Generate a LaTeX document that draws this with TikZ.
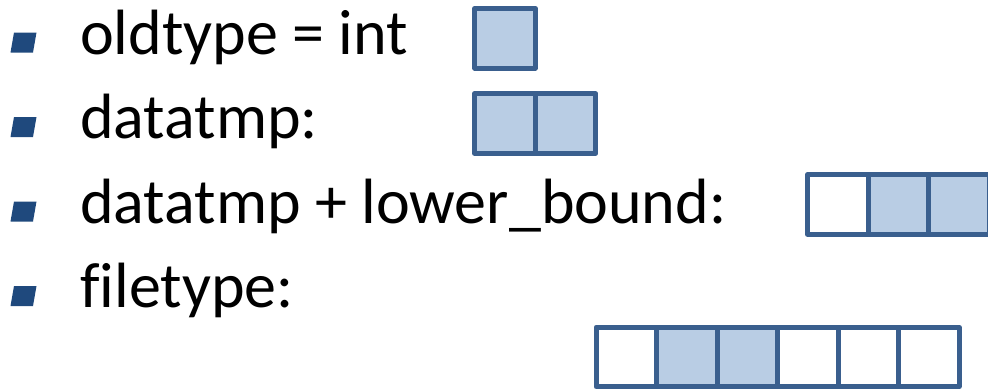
\documentclass[tikz,border=0pt]{standalone}
\usepackage{fontspec}
\setmainfont{Carlito}[Ligatures=NoCommon]
\usetikzlibrary{positioning}
\definecolor{bulletBlue}{HTML}{1F497D}
\definecolor{cellBorder}{HTML}{3A5F8E}
\definecolor{cellFill}{HTML}{B9CDE4}

\begin{document}
\begin{tikzpicture}[x=1pt, y=-1pt,
    label/.style={anchor=base west, inner sep=0pt, font=\fontsize{64}{72}\selectfont},
    cell/.style={draw=cellBorder, line width=5pt, line join=round, fill=white,
                 minimum width=60.5pt, minimum height=59.5pt, inner sep=0pt, outer sep=0pt},
    used/.style={cell, fill=cellFill}]
    \useasboundingbox (0,0) rectangle (988,389);

    % bullets
    \foreach \y in {42.5,127,211.5,296}
      \fill[bulletBlue] (14,\y-10) -- (36.5,\y-10) -- (33,\y+10) -- (10.5,\y+10) -- cycle;

    \node[label] (oldtype) at (80,54) {oldtype = int};
    \node[label] (datatmp) at (80,138.5) {datatmp:};
    \node[label] (lower) at (80,223) {datatmp + lower\_bound:};
    \node[label] (filetype) at (80,307.5) {filetype:};

    % oldtype
    \node[used] (old1) at (505,38.3) {};

    % datatmp
    \node[used] (tmp1) at (505,123.5) {};
    \node[used, right=0pt of tmp1] (tmp2) {};

    % datatmp + lower_bound
    \node[cell] (lb1) at (838,204.5) {};
    \node[used, right=0pt of lb1] (lb2) {};
    \node[used, right=0pt of lb2] (lb3) {};

    % filetype
    \node[cell] (ft1) at (626.3,357) {};
    \node[used, right=0pt of ft1] (ft2) {};
    \node[used, right=0pt of ft2] (ft3) {};
    \node[cell, right=0pt of ft3] (ft4) {};
    \node[cell, right=0pt of ft4] (ft5) {};
    \node[cell, right=0pt of ft5] (ft6) {};
  \end{tikzpicture}
\end{document}
